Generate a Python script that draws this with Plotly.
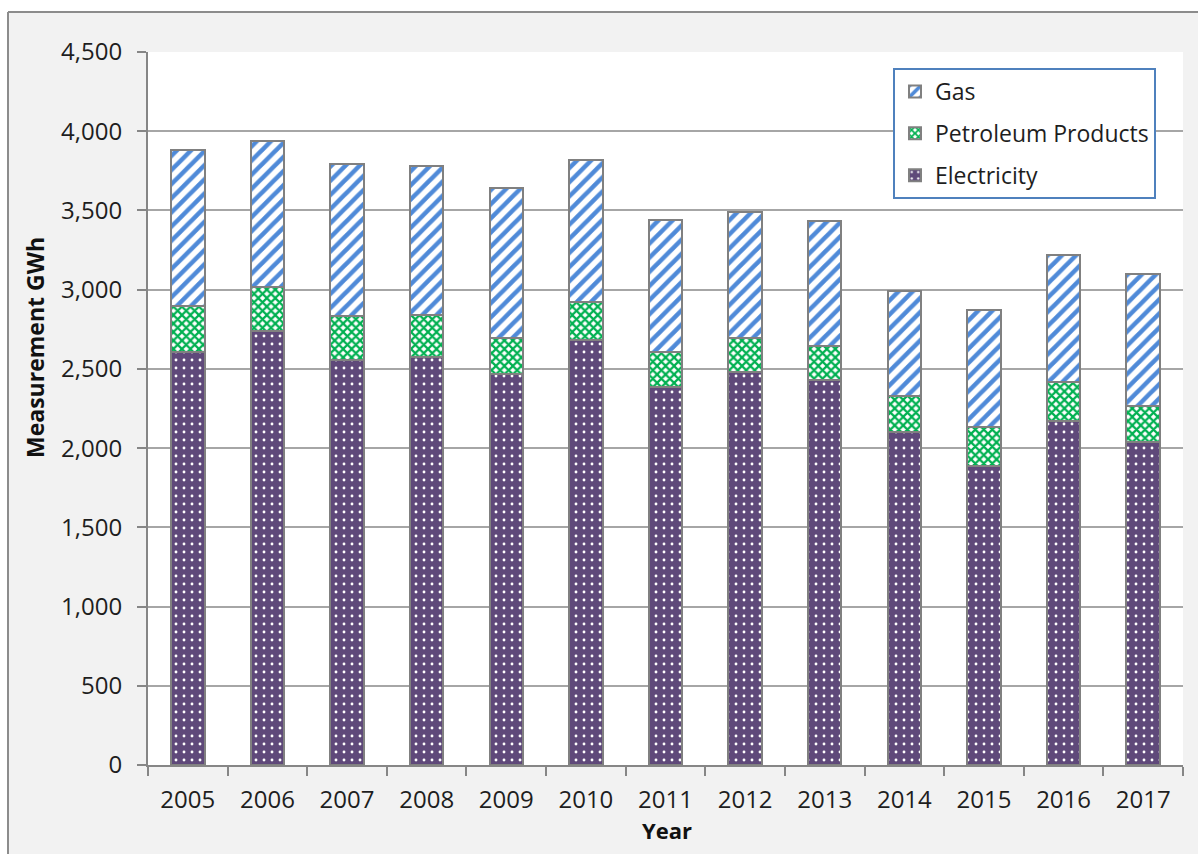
import plotly.graph_objects as go

# Energy use by source, GWh
years = ["2005", "2006", "2007", "2008", "2009", "2010", "2011",
         "2012", "2013", "2014", "2015", "2016", "2017"]
electricity = [2606, 2739, 2556, 2572, 2466, 2682, 2384, 2478, 2430, 2100, 1887, 2171, 2041]
petroleum = [293, 276, 278, 266, 231, 238, 225, 219, 216, 232, 248, 244, 227]
gas = [982, 925, 961, 942, 943, 898, 831, 795, 787, 662, 737, 806, 833]
y_ticks = [0, 500, 1000, 1500, 2000, 2500, 3000, 3500, 4000, 4500]

W, H = 1198, 854
L, R, T, B = 148, 15, 52, 89
PW, PH = W - L - R, H - T - B


def px(x):
    return (x - L) / PW


def py(y):
    return (H - B - y) / PH


FONT = "Open Sans"
TXT = "#1e1e1e"
OUTLINE = dict(color="#808080", width=2)

fig = go.Figure()
fig.add_trace(go.Bar(
    name="Electricity", x=years, y=electricity, legendgroup="e", legendrank=3,
    marker=dict(color="#5f497a", line=OUTLINE,
                pattern=dict(shape=".", fgcolor="#ffffff", bgcolor="#5f497a",
                             size=8, solidity=0.1, fgopacity=1)),
))
fig.add_trace(go.Bar(
    name="Petroleum Products", x=years, y=petroleum, legendgroup="p", legendrank=2,
    marker=dict(color="#00b050", line=OUTLINE,
                pattern=dict(shape="x", fgcolor="#00b050", bgcolor="#ffffff",
                             size=6, solidity=0.6, fgopacity=1)),
))
fig.add_trace(go.Bar(
    name="Gas", x=years, y=gas, legendgroup="g", legendrank=1,
    marker=dict(color="#558ed5", line=OUTLINE,
                pattern=dict(shape="/", fgcolor="#4f8ad8", bgcolor="#ffffff",
                             size=10, solidity=0.45, fgopacity=1)),
))

fig.update_layout(
    width=W, height=H,
    margin=dict(l=L, r=R, t=T, b=B, pad=0),
    barmode="stack", bargap=0.58,
    paper_bgcolor="#f2f2f2", plot_bgcolor="#ffffff",
    font=dict(family=FONT, size=24, color=TXT),
    showlegend=True,
    legend=dict(
        x=px(893), y=py(68), xanchor="left", yanchor="top",
        traceorder="grouped", tracegroupgap=9,
        bgcolor="#ffffff", bordercolor="#4f81bd", borderwidth=2,
        font=dict(family=FONT, size=23, color=TXT),
    ),
    xaxis=dict(
        type="category", tickson="boundaries", ticks="outside", ticklen=9,
        tickwidth=2, tickcolor="#868686", showline=True, linecolor="#868686",
        linewidth=2, showgrid=False, tickfont=dict(size=24, color=TXT),
        ticklabelstandoff=12,
    ),
    yaxis=dict(
        range=[0, 4500], tickvals=y_ticks, tickformat=",", ticks="outside",
        ticklen=9, tickwidth=2, tickcolor="#868686", showline=True,
        linecolor="#868686", linewidth=2, showgrid=True, gridcolor="#a6a6a6",
        gridwidth=2, zeroline=False, tickfont=dict(size=24, color=TXT),
        ticklabelstandoff=10,
    ),
    annotations=[
        dict(text="<b>Measurement GWh</b>", x=px(35), y=py(348), xref="paper",
             yref="paper", textangle=-90, showarrow=False,
             font=dict(family=FONT, size=23, color="#111111"),
             xanchor="center", yanchor="middle"),
        dict(text="<b>Year</b>", x=px(667), y=py(830), xref="paper",
             yref="paper", showarrow=False,
             font=dict(family=FONT, size=22, color="#111111"),
             xanchor="center", yanchor="middle"),
    ],
    shapes=[
        # white margin strips and the chart frame
        dict(type="rect", xref="paper", yref="paper", x0=px(-5), x1=px(8),
             y0=py(H + 5), y1=py(-5), fillcolor="#ffffff", line_width=0),
        dict(type="rect", xref="paper", yref="paper", x0=px(-5), x1=px(W + 5),
             y0=py(12), y1=py(-5), fillcolor="#ffffff", line_width=0),
        dict(type="line", xref="paper", yref="paper", x0=px(8), x1=px(8),
             y0=py(H + 5), y1=py(12), line=dict(color="#8c8c8c", width=2)),
        dict(type="line", xref="paper", yref="paper", x0=px(8), x1=px(W + 5),
             y0=py(12), y1=py(12), line=dict(color="#8c8c8c", width=2)),
    ],
)

fig.write_html("out.html")
